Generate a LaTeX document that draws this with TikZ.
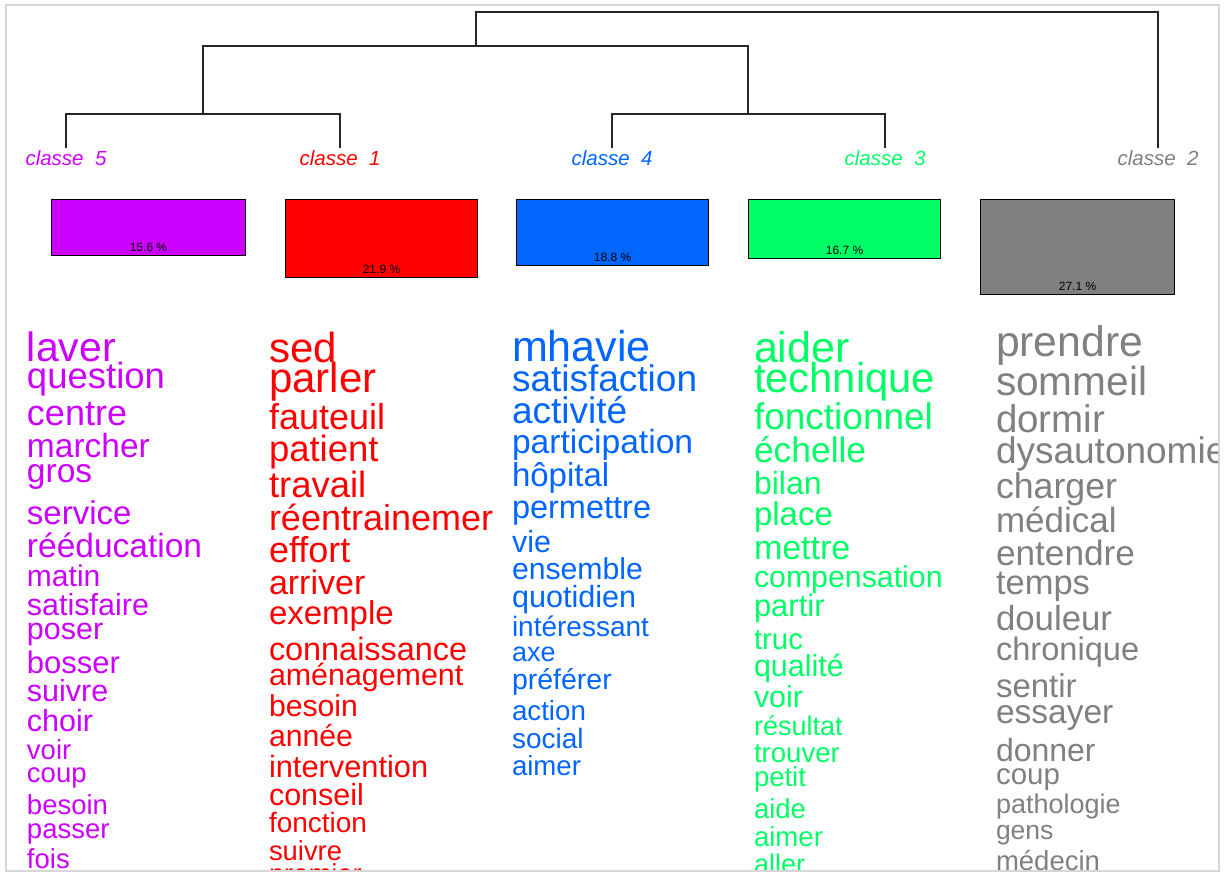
\documentclass[tikz,border=0pt]{standalone}
\usepackage{fontspec}
\setmainfont{Liberation Sans}
\definecolor{cmag}{RGB}{204,0,255}
\definecolor{cred}{RGB}{255,0,0}
\definecolor{cblue}{RGB}{0,102,255}
\definecolor{cgreen}{RGB}{0,255,102}
\definecolor{cgray}{RGB}{128,128,128}
\definecolor{framegray}{RGB}{214,214,214}
\tikzset{
  word/.style={anchor=base west, inner sep=0pt, outer sep=0pt},
  clslabel/.style={anchor=base, inner sep=2pt, font=\fontsize{20.5}{20.5}\selectfont\itshape},
  classbox/.style={draw=black, line width=1pt, anchor=north west, inner sep=0pt},
  pct/.style={anchor=base, inner sep=0pt, font=\fontsize{12}{12}\selectfont, text=black},
  tree/.style={draw=black!85, line width=1.1pt},
}
\begin{document}
\begin{tikzpicture}[x=1pt, y=-1pt]
\useasboundingbox (0,0) rectangle (1228,873);
\fill[white] (0,0) rectangle (1228,873);

% class labels
\node[clslabel, text=cmag]   (l5) at (66,165)   {classe\ \ 5};
\node[clslabel, text=cred]   (l1) at (340,165)  {classe\ \ 1};
\node[clslabel, text=cblue]  (l4) at (612,165)  {classe\ \ 4};
\node[clslabel, text=cgreen] (l3) at (885,165)  {classe\ \ 3};
\node[clslabel, text=cgray]  (l2) at (1158,165) {classe\ \ 2};

% dendrogram junctions
\coordinate (j51) at (203,114);
\coordinate (j43) at (748,114);
\coordinate (j5143) at (476,46);
\coordinate (jroot) at (817,12);
\draw[tree] (l5.north) |- (j51) -| (l1.north);
\draw[tree] (l4.north) |- (j43) -| (l3.north);
\draw[tree] (j51) |- (j5143) -| (j43);
\draw[tree] (j5143) |- (jroot) -| (l2.north);

% class size boxes
\node[classbox, fill=cmag,   minimum width=194pt, minimum height=56pt] (b5) at (51,199)  {};
\node[classbox, fill=cred,   minimum width=192pt, minimum height=78pt] (b1) at (285,199) {};
\node[classbox, fill=cblue,  minimum width=192pt, minimum height=66pt] (b4) at (516,199) {};
\node[classbox, fill=cgreen, minimum width=192pt, minimum height=59pt] (b3) at (748,199) {};
\node[classbox, fill=cgray,  minimum width=194pt, minimum height=95pt] (b2) at (980,199) {};
\node[pct] (p5) at ([yshift=5pt]b5.south) {15.6 \%};
\node[pct] (p1) at ([yshift=5pt]b1.south) {21.9 \%};
\node[pct] (p4) at ([yshift=5pt]b4.south) {18.8 \%};
\node[pct] (p3) at ([yshift=5pt]b3.south) {16.7 \%};
\node[pct] (p2) at ([yshift=5pt]b2.south) {27.1 \%};

% word lists, clipped to the plot region
\begin{scope}
\clip (6,5) rectangle (1219,870);
\foreach \w/\y/\s [count=\i] in {laver/361/41, question/388/36.5, centre/425/36, marcher/457/33.5, gros/482/33.5, service/524/33, rééducation/557/33.5, matin/586/30, satisfaire/615/30.5, poser/639/30.5, bosser/673/31, suivre/701/30.5, choir/731/30.5, voir/759/27.5, coup/782/27.5, besoin/814/27.5, passer/838/27.5, fois/868/27.5}
  \node[word, text=cmag, font=\fontsize{\s}{\s}\selectfont] (wa\i) at (27,\y) {\w};
\foreach \w/\y/\s [count=\i] in {sed/362/42, parler/392/42, fauteuil/429/36, patient/461/36.5, travail/497/36.5, réentrainemer/530/36, effort/562/36, arriver/594/34, exemple/624/33, connaissance/660/32.4, aménagement/685/30.4, besoin/716/30.2, année/746/30.2, intervention/777/30.8, conseil/805/30.5, fonction/832/28, suivre/860/27.4, premier/883/27.4}
  \node[word, text=cred, font=\fontsize{\s}{\s}\selectfont] (wb\i) at (269,\y) {\w};
\foreach \w/\y/\s [count=\i] in {mhavie/361/43, satisfaction/391/37, activité/423/37, participation/453/33.6, hôpital/486/33, permettre/518/32.5, vie/552/30.5, ensemble/579/30.2, quotidien/607/30.6, intéressant/636/28, axe/661/27, préférer/689/28.5, action/720/27.7, social/748/28, aimer/775/27.6}
  \node[word, text=cblue, font=\fontsize{\s}{\s}\selectfont] (wc\i) at (512,\y) {\w};
\foreach \w/\y/\s [count=\i] in {aider/362/43, technique/392/41.7, fonctionnel/429/37, échelle/462/35.4, bilan/494/32, place/525/33, mettre/559/34, compensation/587/30.3, partir/616/31, truc/649/29.4, qualité/676/30.5, voir/707/30.4, résultat/735/27, trouver/762/27.6, petit/786/27.5, aide/818/27.5, aimer/846/27.6, aller/873/27}
  \node[word, text=cgreen, font=\fontsize{\s}{\s}\selectfont] (wd\i) at (754,\y) {\w};
\foreach \w/\y/\s [count=\i] in {prendre/356/42.7, sommeil/395/40.6, dormir/432/38.5, dysautonomie/463/37, charger/498/35.7, médical/532/35, entendre/565/35.2, temps/594/34.5, douleur/630/34.8, chronique/660/32.6, sentir/697/33, essayer/723/33.5, donner/761/32, coup/784/29.5, pathologie/813/27, gens/839/26.5, médecin/870/27.5}
  \node[word, text=cgray, font=\fontsize{\s}{\s}\selectfont] (we\i) at (996,\y) {\w};
\end{scope}

% plot frame
\draw[framegray, line width=1.6pt] (6,5) rectangle (1219,871);
\end{tikzpicture}
\end{document}
